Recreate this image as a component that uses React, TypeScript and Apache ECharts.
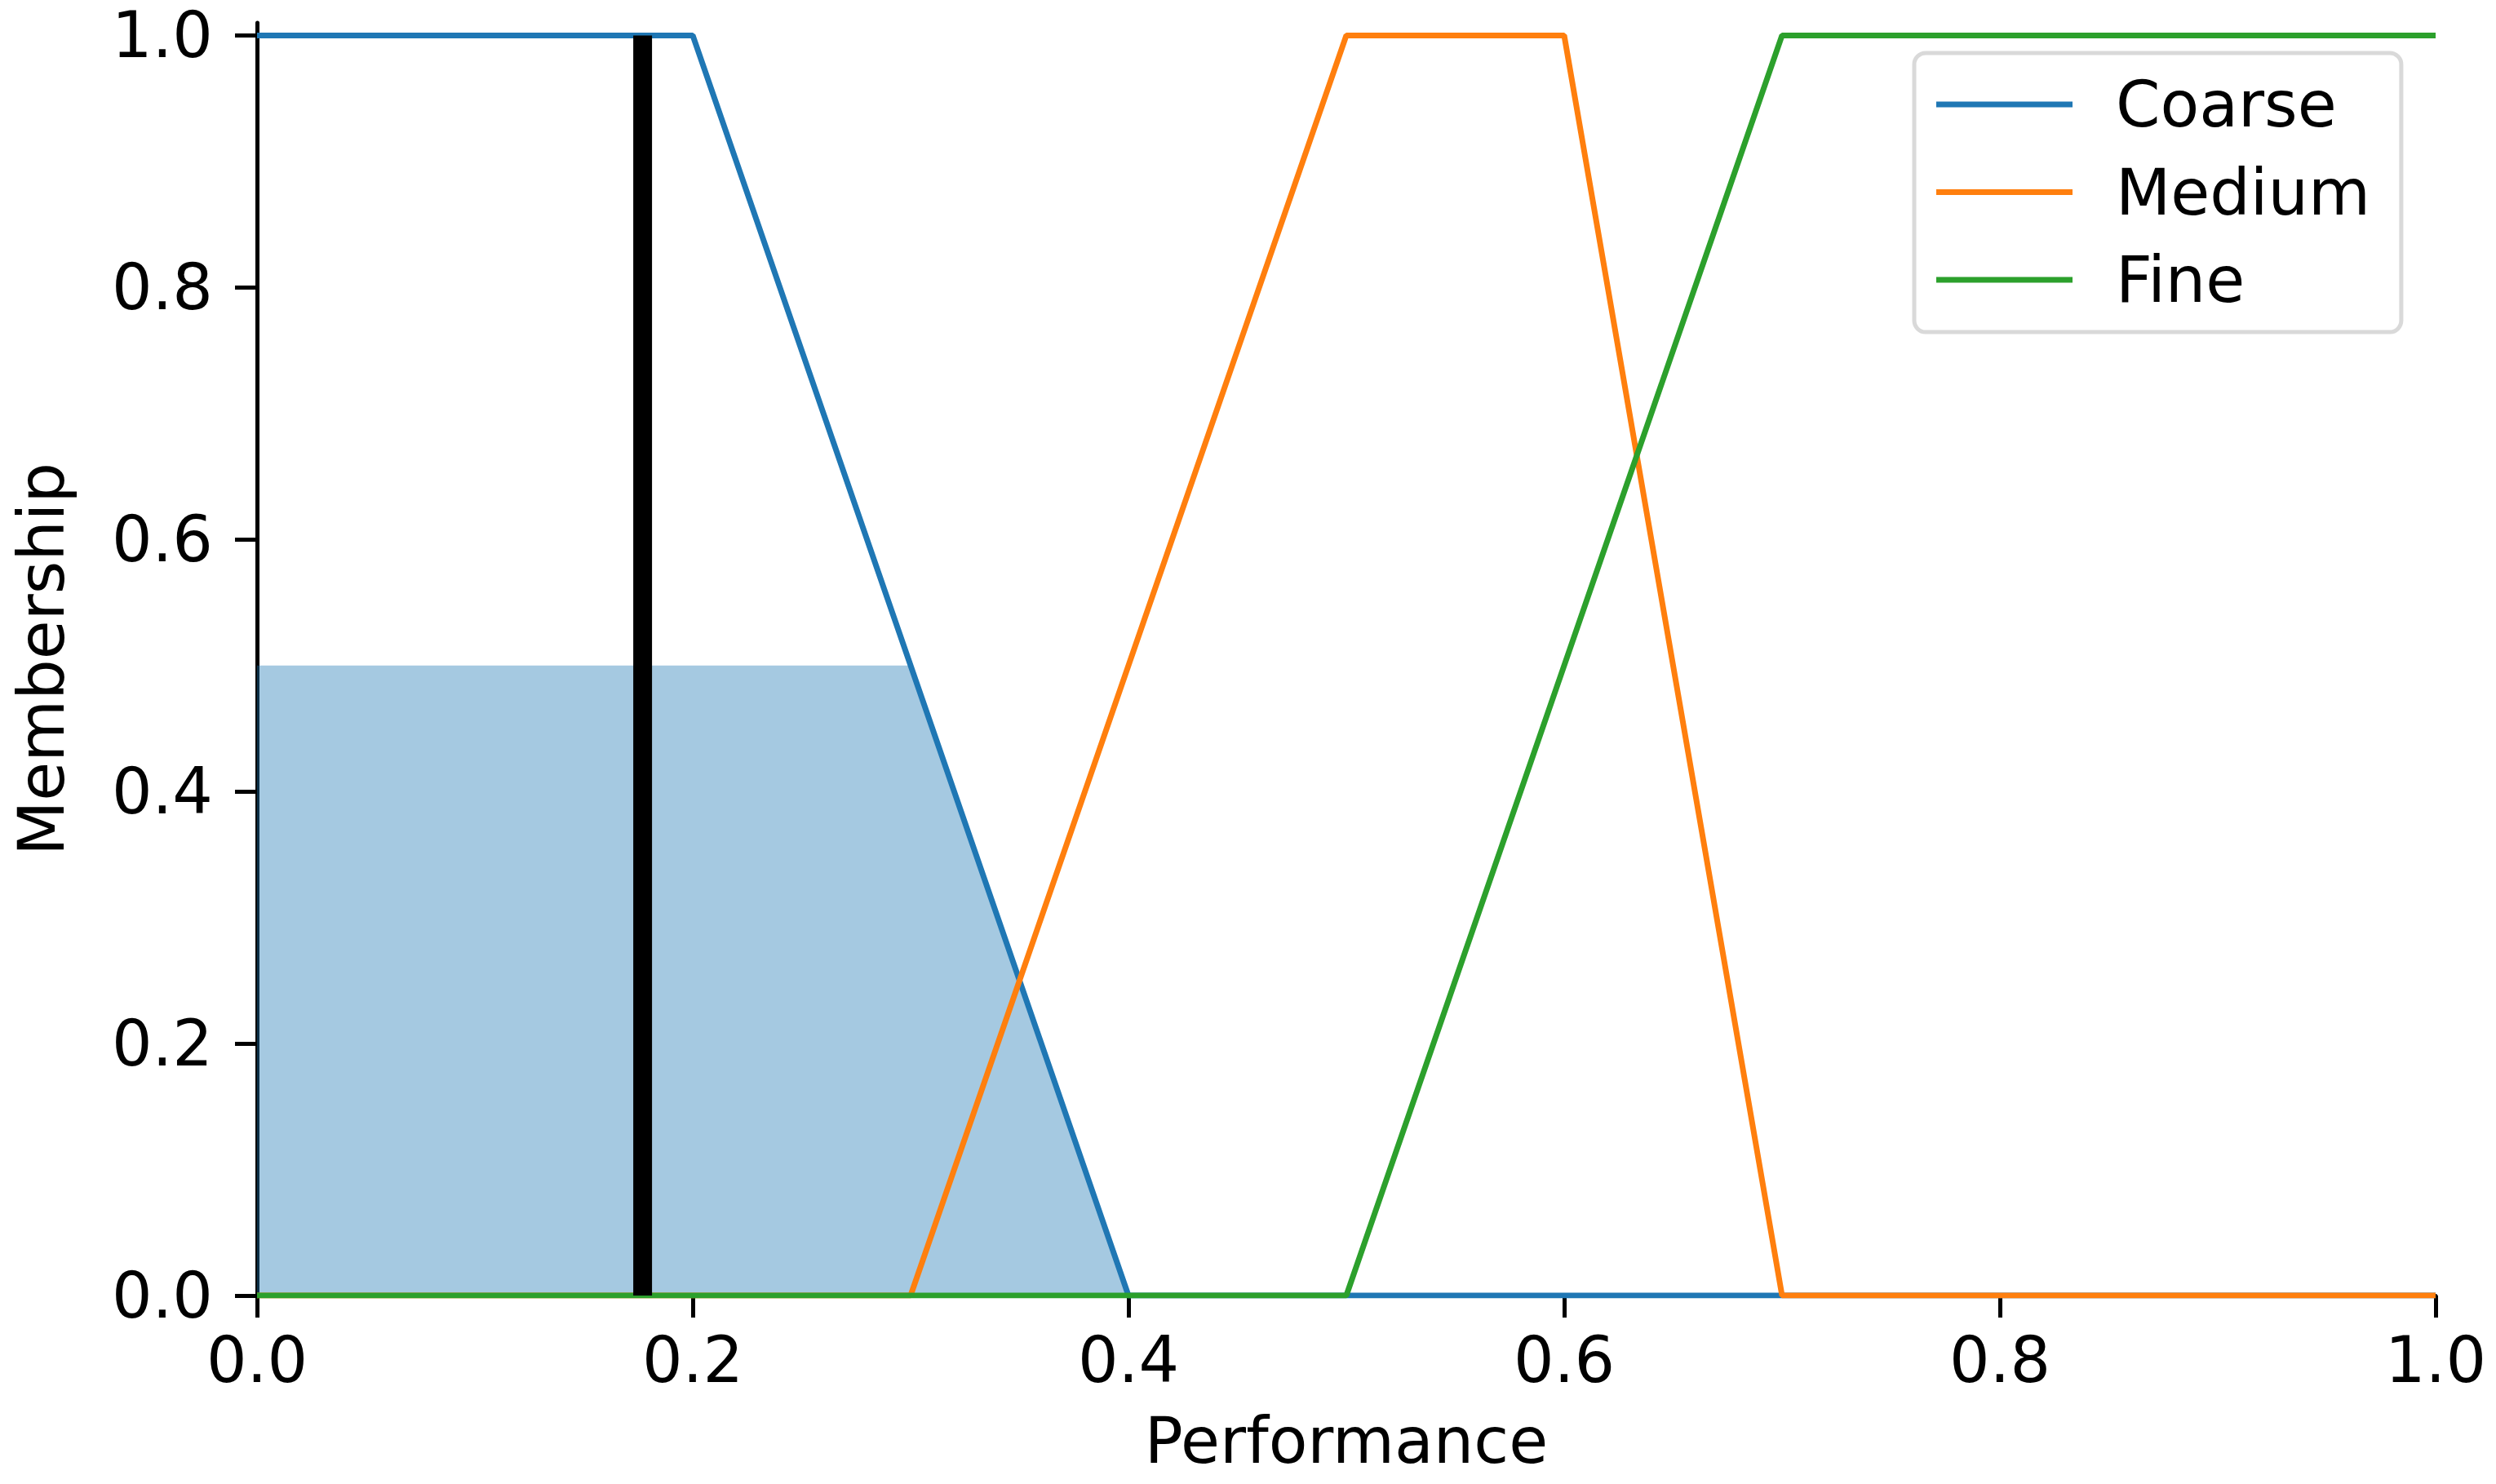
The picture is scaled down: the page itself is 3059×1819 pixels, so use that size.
import React, { useEffect, useRef } from 'react';
import * as echarts from 'echarts';

const xTicks = [0, 0.2, 0.4, 0.6, 0.8, 1.0];
const yTicks = [0, 0.2, 0.4, 0.6, 0.8, 1.0];
const seriesNames = ['Coarse', 'Medium', 'Fine'];
const seriesColors = ['#1f77b4', '#ff7f0e', '#2ca02c'];
const coarseX = [0, 0.2, 0.4, 1.0];
const coarseY = [1, 1, 0, 0];
const mediumX = [0, 0.3, 0.5, 0.6, 0.7, 1.0];
const mediumY = [0, 0, 1, 1, 0, 0];
const fineX = [0, 0.5, 0.7, 1.0];
const fineY = [0, 0, 1, 1];
const activationX = [0, 0.3, 0.4];
const activationY = [0.5, 0.5, 0];
const crispValue = 0.177;
const crispMembership = 1.0;
const xName = 'Performance';
const yName = 'Membership';

const FONT = 'DejaVu Sans';
const FS = 78;

const zip = (xs: number[], ys: number[]) => xs.map((x, i) => [x, ys[i]]);

export default function App() {
  const ref = useRef<HTMLDivElement>(null);
  useEffect(() => {
    const chart = echarts.init(ref.current!, null, { renderer: 'svg' });
    const curves = [zip(coarseX, coarseY), zip(mediumX, mediumY), zip(fineX, fineY)];
    const option: any = {
      animation: false,
      backgroundColor: '#ffffff',
      grid: { left: 315, right: 74, top: 28, bottom: 231, containLabel: false },
      xAxis: {
        type: 'value',
        min: 0,
        max: 1,
        interval: 0.2,
        name: xName,
        nameLocation: 'middle',
        nameGap: 139,
        nameTextStyle: { fontSize: FS, fontFamily: FONT, color: '#000' },
        axisLine: { show: true, onZero: false, lineStyle: { color: '#000', width: 5 } },
        axisTick: { show: true, inside: false, length: 27, lineStyle: { color: '#000', width: 5 } },
        axisLabel: {
          show: true,
          margin: 40,
          fontSize: FS,
          fontFamily: FONT,
          color: '#000',
          formatter: (v: number) => v.toFixed(1),
          customValues: xTicks,
        },
        splitLine: { show: false },
      },
      yAxis: {
        type: 'value',
        min: 0,
        max: 1.01,
        name: yName,
        nameLocation: 'middle',
        nameGap: 225,
        nameTextStyle: { fontSize: FS, fontFamily: FONT, color: '#000' },
        axisLine: { show: true, onZero: false, lineStyle: { color: '#000', width: 5 } },
        axisTick: { show: true, inside: false, length: 27, lineStyle: { color: '#000', width: 5 }, customValues: yTicks },
        axisLabel: {
          show: true,
          margin: 54,
          fontSize: FS,
          lineHeight: 60,
          padding: [8, 0, 0, 0],
          fontFamily: FONT,
          color: '#000',
          formatter: (v: number) => v.toFixed(1),
          customValues: yTicks,
        },
        splitLine: { show: false },
      },
      legend: {
        show: true,
        orient: 'vertical',
        left: 2346,
        top: 65,
        data: seriesNames,
        icon: 'rect',
        itemWidth: 167,
        itemHeight: 7,
        itemGap: 29.5,
        padding: [24, 38, 25, 27],
        backgroundColor: '#ffffff',
        borderColor: '#d9d9d9',
        borderWidth: 5,
        borderRadius: 14,
        selectedMode: false,
        textStyle: { fontSize: FS, fontFamily: FONT, color: '#000', lineHeight: 78, padding: [0, 0, 0, 48] },
      },
      series: [
        {
          type: 'line',
          name: 'activation',
          data: zip(activationX, activationY),
          symbol: 'none',
          clip: true,
          lineStyle: { width: 0, opacity: 0 },
          areaStyle: { color: '#1f77b4', opacity: 0.4 },
          z: 1,
        },
        ...seriesNames.map((name, i) => ({
          type: 'line',
          name,
          data: curves[i],
          symbol: 'none',
          clip: true,
          lineStyle: { width: 7, color: seriesColors[i] },
          itemStyle: { color: seriesColors[i] },
          z: 2,
        })),
        {
          type: 'line',
          name: 'crisp',
          data: [[crispValue, 0], [crispValue, crispMembership]],
          symbol: 'none',
          clip: true,
          lineStyle: { width: 23, color: '#000000', cap: 'butt' },
          z: 3,
        },
      ],
    };
    chart.setOption(option);
    return () => chart.dispose();
  }, []);
  return (
    <div
      ref={ref}
      style={{ position: 'fixed', left: 0, top: 0, width: 3059, height: 1819, background: '#fff' }}
    />
  );
}
